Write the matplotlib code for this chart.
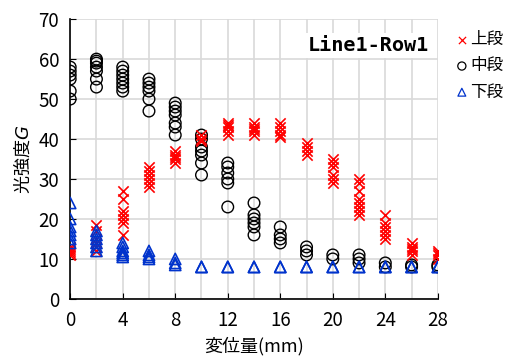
import matplotlib
matplotlib.use('Agg')
import matplotlib.pyplot as plt
from matplotlib.ticker import MultipleLocator

plt.rcParams['font.family'] = ['Noto Sans CJK JP', 'DejaVu Sans']

# 変位量 (mm) and measured 光強度G per position
x_pos = [0, 2, 4, 6, 8, 10, 12, 14, 16, 18, 20, 22, 24, 26, 28]

upper = [
    [13, 12.5, 12, 11.5, 11],
    [18.5, 17, 15, 14, 13, 12],
    [27, 25, 22, 21, 20, 19, 16],
    [33, 32, 31, 30, 29, 28],
    [37, 36, 35.5, 35, 34],
    [41, 40, 39.5],
    [44, 43.5, 43, 42, 41],
    [44, 43, 42.5, 42, 41],
    [44, 43, 42, 41, 40.5],
    [39, 38, 37, 36],
    [35, 34, 33, 31, 30, 29],
    [30, 29, 27, 25, 24, 23, 22, 21],
    [21, 19, 18, 17, 16, 15],
    [14, 13, 12.5, 12, 11],
    [12, 11.5, 11, 10],
]

middle = [
    [58, 57, 56, 55, 52, 50],
    [60, 59.5, 59, 58, 57, 55, 53],
    [58, 57, 56, 55, 54, 53, 52],
    [55, 54, 53, 52, 50, 47],
    [49, 48, 47, 46, 44, 43, 41],
    [41, 40, 38, 37, 36, 34, 31],
    [34, 33, 31.5, 30, 29, 23],
    [24, 21, 20, 19, 18, 16],
    [18, 16, 15, 14],
    [13, 12, 11],
    [11, 10],
    [11, 10, 9],
    [9, 8],
    [8.5, 8],
    [8.5, 8],
]

lower = [
    [24, 20, 18, 17, 16, 15, 14],
    [17, 16, 15, 14, 13, 12],
    [14, 13, 12, 11.5, 11, 10.5],
    [12, 11, 10.5, 10],
    [10, 9, 8.5],
    [8, 8],
    [8, 8],
    [8, 8],
    [8, 8],
    [8, 8],
    [8, 8],
    [8, 8],
    [8, 8],
    [8, 8],
    [8, 8],
]

x_ticks = [0, 4, 8, 12, 16, 20, 24, 28]


def flatten(groups):
    xs, ys = [], []
    for xv, vals in zip(x_pos, groups):
        xs += [xv] * len(vals)
        ys += vals
    return xs, ys


fig = plt.figure(figsize=(5.05, 3.61), dpi=100)
ax = fig.add_axes([0.139, 0.172, 0.728, 0.775])

xs, ys = flatten(middle)
ax.scatter(xs, ys, s=70, marker='o', facecolors='none', edgecolors='black',
           linewidths=1.0, label='中段', zorder=3)
xs, ys = flatten(upper)
ax.scatter(xs, ys, s=55, marker='x', color='#ff0000', linewidths=1.2,
           label='上段', zorder=4)
xs, ys = flatten(lower)
ax.scatter(xs, ys, s=65, marker='^', facecolors='none', edgecolors='#0033cc',
           linewidths=1.2, label='下段', zorder=5)

ax.set_xlim(0, 28)
ax.set_ylim(0, 70)
ax.set_xticks(x_ticks)
ax.xaxis.set_minor_locator(MultipleLocator(2))
ax.yaxis.set_major_locator(MultipleLocator(10))
ax.grid(True, which='both', color='#d9d9d9', linewidth=1.2, zorder=0)
ax.set_axisbelow(True)
for s in ['top', 'right']:
    ax.spines[s].set_visible(False)
for s in ['left', 'bottom']:
    ax.spines[s].set_linewidth(1.2)
ax.tick_params(which='major', direction='in', length=4, labelsize=13.5, pad=8)
ax.tick_params(which='minor', length=0)

ax.set_xlabel('変位量(mm)', fontsize=13, labelpad=4)
ax.set_ylabel('光強度$\\it{G}$', fontsize=13, labelpad=4)

ax.text(0.975, 0.905, 'Line1-Row1', transform=ax.transAxes, ha='right', va='center',
        fontsize=14.5, family='DejaVu Sans Mono', fontweight='bold',
        bbox=dict(facecolor='white', edgecolor='none', pad=2), zorder=6)

h, l = ax.get_legend_handles_labels()
order = [1, 0, 2]
leg = fig.legend([h[i] for i in order], [l[i] for i in order],
                 loc='upper left', bbox_to_anchor=(0.87, 0.955), frameon=False,
                 fontsize=12, handletextpad=0.05, handlelength=0.9,
                 labelspacing=0.55, markerscale=0.7)
for hd in leg.legend_handles:
    hd.set_linewidth(0.9)

fig.savefig('out.png', dpi=100)
